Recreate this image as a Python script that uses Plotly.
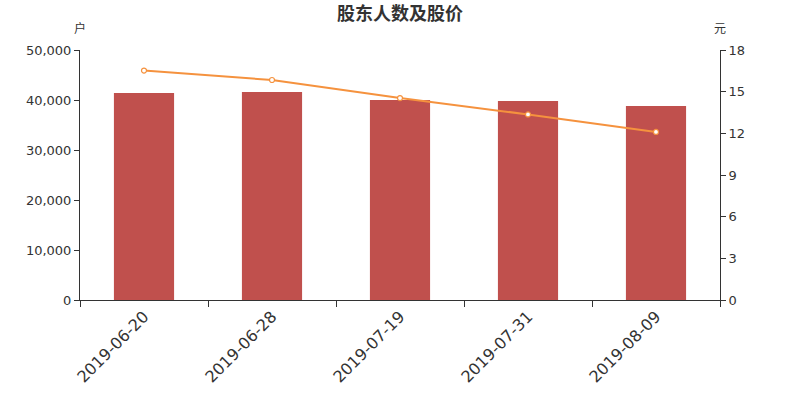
import plotly.graph_objects as go

dates = ["2019-06-20", "2019-06-28", "2019-07-19", "2019-07-31", "2019-08-09"]
holders = [41400, 41600, 40000, 39800, 38800]
prices = [16.52, 15.84, 14.54, 13.36, 12.10]

fig = go.Figure()
fig.add_trace(go.Bar(x=dates, y=holders, marker=dict(color="#c0504d", line=dict(width=0)),
                     width=0.47, name="股东人数", yaxis="y"))
fig.add_trace(go.Scatter(x=dates, y=prices, mode="lines+markers", yaxis="y2",
                         line=dict(color="#f5923e", width=2),
                         marker=dict(size=5, color="white", line=dict(color="#f5923e", width=1.2)),
                         name="股价"))

font_family = "DejaVu Sans, Noto Sans CJK SC, sans-serif"
fig.update_layout(
    width=800, height=400,
    margin=dict(l=80, r=80, t=50, b=100),
    plot_bgcolor="white", paper_bgcolor="white",
    showlegend=False,
    font=dict(family=font_family, color="#333", size=13),
    title=dict(text="<b>股东人数及股价</b>", x=0.5, xanchor="center", xref="container",
               yref="container", y=1 - 14 / 400, yanchor="middle",
               font=dict(family="Noto Sans CJK SC, sans-serif", size=18, color="#333")),
    xaxis=dict(type="category", showline=True, linecolor="#333", linewidth=1,
               ticks="outside", tickson="boundaries", ticklen=6, tickcolor="#333",
               tickangle=-45, tickfont=dict(size=16, color="#333"), showgrid=False),
    yaxis=dict(range=[0, 50000], tickvals=[0, 10000, 20000, 30000, 40000, 50000],
               tickformat=",d", showline=True, linecolor="#333", ticks="outside",
               ticklen=5, tickcolor="#333", showgrid=False, zeroline=False),
    yaxis2=dict(range=[0, 18], tickvals=[0, 3, 6, 9, 12, 15, 18], overlaying="y", side="right",
                showline=True, linecolor="#333", ticks="outside", ticklen=5, tickcolor="#333",
                showgrid=False, zeroline=False),
    bargap=0.53,
)
fig.add_annotation(text="户", xref="paper", yref="paper", x=0, y=1.0, yshift=23, showarrow=False,
                   xanchor="center", yanchor="middle", font=dict(size=12, family="Noto Sans CJK SC", color="#333"))
fig.add_annotation(text="元", xref="paper", yref="paper", x=1, y=1.0, yshift=23, showarrow=False,
                   xanchor="center", yanchor="middle", font=dict(size=12, family="Noto Sans CJK SC", color="#333"))

fig.write_html("out.html", config={"displayModeBar": False},
               post_script="document.body.style.margin='0';")
